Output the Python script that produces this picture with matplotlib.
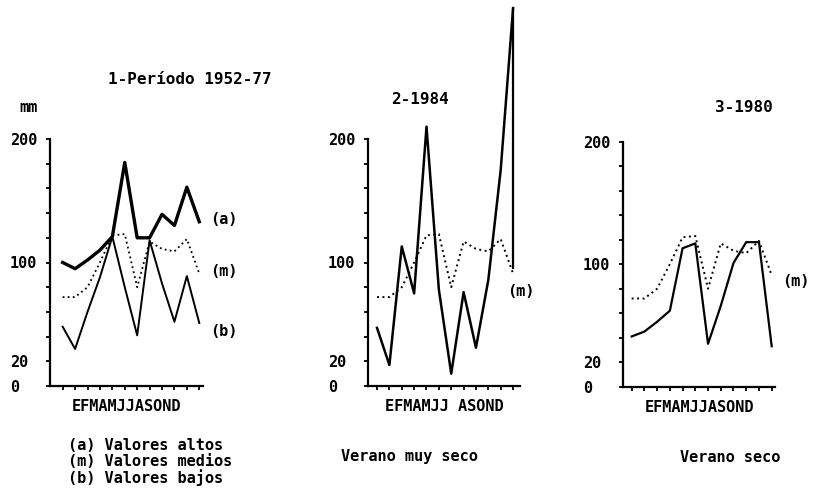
import matplotlib
matplotlib.use("Agg")
import matplotlib.pyplot as plt
import numpy as np
from matplotlib.ticker import FixedLocator, FixedFormatter

# ---------------- data ----------------
meses_p1 = "EFMAMJJASOND"
meses_p2 = "EFMAMJJ ASOND"
meses_p3 = "EFMAMJJASOND"
n_meses = 12

altos = [100, 95, 102, 110, 121, 181, 120, 120, 139, 130, 161, 133]
medios = [72, 72, 80, 100, 122, 123, 80, 117, 111, 109, 119, 91]
bajos = [48, 30, 60, 88, 121, 80, 41, 118, 83, 52, 89, 51]

anio_1984 = [47, 17, 113, 75, 210, 78, 10, 76, 31, 86, 175, 306]
vertical_1984 = [95, 306]  # trazo vertical en diciembre

anio_1980 = [41, 45, 53, 62, 113, 117, 35, 66, 101, 118, 118, 33]

yticks = [0, 20, 40, 60, 80, 100, 120, 140, 160, 180, 200]
ytick_labels = ["0", "20", "", "", "", "100", "", "", "", "", "200"]

titulos = ["1-Período 1952-77", "2-1984", "3-1980"]
leyenda = ["(a) Valores altos", "(m) Valores medios", "(b) Valores bajos"]
pies = ["Verano muy seco", "Verano seco"]

# ---------------- figure ----------------
W, H = 817, 495
fig = plt.figure(figsize=(W / 100, H / 100), dpi=100)
fig.patch.set_facecolor("white")

MONO = "DejaVu Sans Mono"


def rect(x0, x1, ytop, ybot):
    return [x0 / W, 1 - ybot / H, (x1 - x0) / W, (ybot - ytop) / H]


def fx(px):
    return px / W


def fy(py):
    return 1 - py / H


pos = np.arange(1, n_meses + 1)


def setup(ax, xlim, xlabel):
    ax.set_xlim(*xlim)
    ax.set_ylim(0, 200)
    for s in ["top", "right"]:
        ax.spines[s].set_visible(False)
    for s in ["left", "bottom"]:
        ax.spines[s].set_linewidth(1.6)
    ax.yaxis.set_major_locator(FixedLocator(yticks))
    ax.yaxis.set_major_formatter(FixedFormatter(ytick_labels))
    ax.set_xticks(pos)
    ax.set_xticklabels([])
    ax.tick_params(axis="x", direction="out", length=3, width=1.3)
    ax.tick_params(axis="y", direction="out", length=3, width=1.3, pad=26,
                   labelsize=11)
    for lab in ax.get_yticklabels():
        lab.set_horizontalalignment("left")
        lab.set_fontfamily(MONO)
        lab.set_fontweight("bold")
    ax.set_xlabel(xlabel, fontfamily=MONO, fontweight="bold", fontsize=11,
                  labelpad=3)
    ax.patch.set_alpha(0)


dot = (0, (1, 1.8))

# Panel 1
ax1 = fig.add_axes(rect(50, 203, 139, 386))
setup(ax1, (-0.02, 12.3), meses_p1)
ax1.plot(pos, medios, color="black", lw=1.3, ls=dot, clip_on=False)
ax1.plot(pos, bajos, color="black", lw=1.4, clip_on=False)
ax1.plot(pos, altos, color="black", lw=2.4, clip_on=False)

# Panel 2
ax2 = fig.add_axes(rect(368, 520, 139, 386))
setup(ax2, (0.27, 12.56), meses_p2)
ax2.plot(pos, medios, color="black", lw=1.4, ls=dot, clip_on=False)
ax2.plot(pos, anio_1984, color="black", lw=1.8, clip_on=False)
ax2.vlines(pos[-1], vertical_1984[0], vertical_1984[1], color="black",
           lw=1.6, clip_on=False)

# Panel 3
ax3 = fig.add_axes(rect(623, 775, 141.7, 386.7))
setup(ax3, (0.32, 12.26), meses_p3)
ax3.plot(pos, medios, color="black", lw=1.4, ls=dot, clip_on=False)
ax3.plot(pos, anio_1980, color="black", lw=1.6, clip_on=False)

# ---------------- texts ----------------
tkw = dict(fontfamily=MONO, fontweight="bold", color="black")
fig.text(fx(190), fy(80), titulos[0], ha="center", va="center", fontsize=11.5, **tkw)
fig.text(fx(420), fy(100), titulos[1], ha="center", va="center", fontsize=11.5, **tkw)
fig.text(fx(744), fy(108), titulos[2], ha="center", va="center", fontsize=11.5, **tkw)
fig.text(fx(19), fy(107), "mm", ha="left", va="center", fontsize=11, **tkw)

fig.text(fx(224), fy(220), "(a)", ha="center", va="center", fontsize=11, **tkw)
fig.text(fx(224), fy(271), "(m)", ha="center", va="center", fontsize=11, **tkw)
fig.text(fx(224), fy(332), "(b)", ha="center", va="center", fontsize=11, **tkw)
fig.text(fx(521), fy(292), "(m)", ha="center", va="center", fontsize=11, **tkw)
fig.text(fx(796), fy(282), "(m)", ha="center", va="center", fontsize=11, **tkw)

for i, t in enumerate(leyenda):
    fig.text(fx(68), fy(445 + 16.5 * i), t, ha="left", va="center",
             fontsize=11, **tkw)
fig.text(fx(409), fy(456), pies[0], ha="center", va="center", fontsize=11, **tkw)
fig.text(fx(730), fy(458), pies[1], ha="center", va="center", fontsize=11, **tkw)

fig.savefig("out.png", dpi=100, facecolor="white")
